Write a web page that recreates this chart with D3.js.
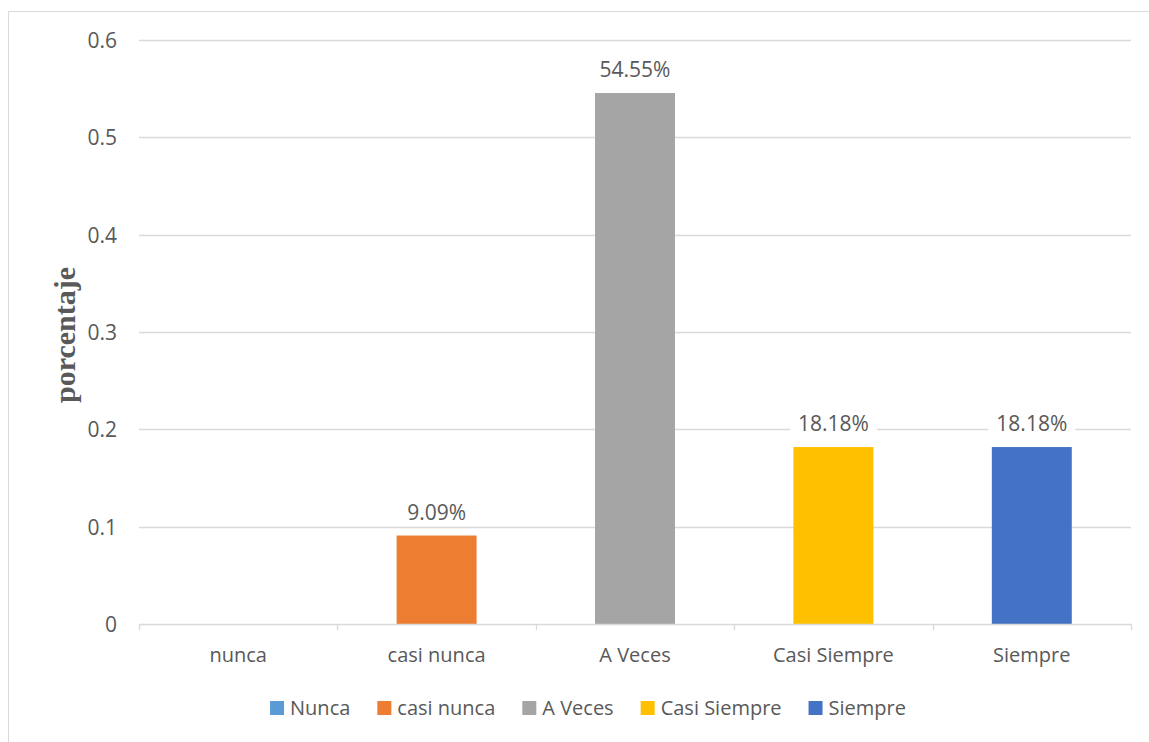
<!DOCTYPE html>
<html>
<head>
<meta charset="utf-8">
<script src="https://cdn.jsdelivr.net/npm/d3@7"></script>
<style>
  html, body { margin: 0; padding: 0; background: #ffffff; }
  svg { display: block; }
  text { font-family: "Open Sans", "Noto Sans", sans-serif; fill: #595959; }
</style>
</head>
<body>
<svg id="chart" width="1149" height="742"></svg>
<script>
// Response categories and their shares
const categories = ["nunca", "casi nunca", "A Veces", "Casi Siempre", "Siempre"];
const legendNames = ["Nunca", "casi nunca", "A Veces", "Casi Siempre", "Siempre"];
const values = [0, 0.0909, 0.5455, 0.1818, 0.1818];
const valueLabels = ["", "9.09%", "54.55%", "18.18%", "18.18%"];
const yTicks = [0, 0.1, 0.2, 0.3, 0.4, 0.5, 0.6];
const colors = ["#5B9BD5", "#ED7D31", "#A5A5A5", "#FFC000", "#4472C4"];

const svg = d3.select("#chart");
const plot = { left: 139, right: 1131, top: 40, bottom: 624 };
const gridColor = "#d9d9d9";

// Outer frame
svg.append("rect")
  .attr("x", 8.5).attr("y", 11.5)
  .attr("width", 1160).attr("height", 760)
  .attr("fill", "none").attr("stroke", gridColor).attr("stroke-width", 1);

const y = d3.scaleLinear().domain([0, 0.6]).range([plot.bottom, plot.top]);
const slot = d3.scaleBand().domain(categories).range([plot.left, plot.right]).padding(0);
const inner = 0.597;
const x = d3.scaleBand().domain(categories).range([plot.left, plot.right])
  .paddingInner(inner).paddingOuter(inner / 2);

// Horizontal gridlines
svg.append("g")
  .selectAll("line")
  .data(yTicks.filter(d => d > 0))
  .join("line")
  .attr("x1", plot.left).attr("x2", plot.right)
  .attr("y1", d => Math.round(y(d)) + 0.5).attr("y2", d => Math.round(y(d)) + 0.5)
  .attr("stroke", gridColor).attr("stroke-width", 1.3);

// Y axis labels
const yAxis = d3.axisLeft(y).tickValues(yTicks)
  .tickFormat(d => d === 0 ? "0" : d3.format(".1f")(d))
  .tickSize(0).tickPadding(22);
const gy = svg.append("g").attr("transform", `translate(${plot.left},0)`).call(yAxis);
gy.select(".domain").remove();
gy.selectAll("text")
  .style("font-size", "21px").attr("fill", "#595959")
  .attr("dy", "0.36em");

// Bars
svg.append("g")
  .selectAll("rect")
  .data(categories)
  .join("rect")
  .attr("x", d => x(d))
  .attr("width", x.bandwidth())
  .attr("y", (d, i) => y(values[i]))
  .attr("height", (d, i) => y(0) - y(values[i]))
  .attr("fill", (d, i) => colors[i]);

// Category axis
const xAxis = d3.axisBottom(slot).tickSize(0).tickPadding(24);
const gx = svg.append("g").attr("transform", `translate(0,${plot.bottom})`).call(xAxis);
gx.select(".domain").remove();
gx.selectAll("text").style("font-size", "20px").attr("fill", "#595959");

svg.append("line")
  .attr("x1", plot.left).attr("x2", plot.right)
  .attr("y1", plot.bottom + 0.5).attr("y2", plot.bottom + 0.5)
  .attr("stroke", gridColor).attr("stroke-width", 1.3);

const boundaries = categories.map(c => slot(c)).concat([plot.right]);
svg.append("g")
  .selectAll("line")
  .data(boundaries)
  .join("line")
  .attr("x1", d => Math.round(d) + 0.5).attr("x2", d => Math.round(d) + 0.5)
  .attr("y1", plot.bottom).attr("y2", plot.bottom + 6)
  .attr("stroke", gridColor).attr("stroke-width", 1.3);

// Value labels with white backing
const labelG = svg.append("g");
categories.forEach((c, i) => {
  if (!valueLabels[i]) return;
  const cx = x(c) + x.bandwidth() / 2;
  const by = y(values[i]) - 16;
  const g = labelG.append("g");
  const bg = g.append("rect").attr("fill", "#ffffff");
  const t = g.append("text")
    .attr("x", cx).attr("y", by)
    .attr("text-anchor", "middle")
    .style("font-size", "21px")
    .text(valueLabels[i]);
  const w = t.node().getComputedTextLength();
  bg.attr("x", cx - w / 2 - 8).attr("width", w + 16)
    .attr("y", by - 18).attr("height", 24);
});

// Y axis title
svg.append("text")
  .attr("transform", "translate(75,335) rotate(-90)")
  .attr("text-anchor", "middle")
  .style("font-family", "'Liberation Serif', 'DejaVu Serif', serif")
  .style("font-weight", "bold")
  .style("font-size", "30px")
  .attr("fill", "#595959")
  .text("porcentaje");

// Legend
const legend = svg.append("g");
const items = legendNames.map((name, i) => {
  const g = legend.append("g");
  g.append("rect").attr("width", 14).attr("height", 14).attr("y", -14).attr("fill", colors[i]);
  const t = g.append("text").attr("x", 20).attr("y", 0).style("font-size", "20px").text(name);
  return { g, w: 20 + t.node().getComputedTextLength() };
});
const gap = 27;
const total = d3.sum(items, d => d.w) + gap * (items.length - 1);
let lx = 588 - total / 2;
items.forEach(it => {
  it.g.attr("transform", `translate(${lx},715)`);
  lx += it.w + gap;
});
</script>
</body>
</html>
